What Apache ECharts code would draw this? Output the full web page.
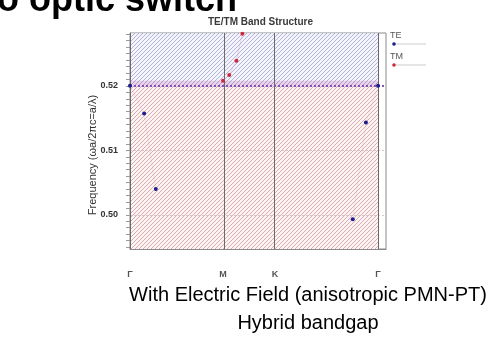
<!DOCTYPE html>
<html><head><meta charset="utf-8">
<script src="https://cdn.jsdelivr.net/npm/echarts@6/dist/echarts.min.js"></script>
<style>html,body{margin:0;padding:0;background:#fff}#c{width:492px;height:341px}</style>
</head><body><div id="c"></div>
<script>
// ---- data ----
const kTicks = [0, 0.375, 0.585, 1];
const kLabels = ['Γ', 'M', 'K', 'Γ'];
const yLabelValues = [0.50, 0.51, 0.52];
const teK = [0, 0.057, 0.104, null, 0.898, 0.951, 1.0];
const teF = [0.52, 0.5157, 0.504, null, 0.4993, 0.5143, 0.52];
const tmK = [0.375, 0.400, 0.429, 0.453];
const tmF = [0.5208, 0.5217, 0.5239, 0.5281];
const teBandFrom = 0.5199;   // blue (TE) hatched region starts here, goes up
const tmBandTo = 0.5208;     // red (TM) hatched region goes up to here
const gridLines = [0.50, 0.51];
const yMin = 0.4947, yMax = 0.5282, xMax = 1.032;

function hatch(bg, fg, step) {
  const c = document.createElement('canvas');
  c.width = c.height = step;
  const g = c.getContext('2d');
  g.fillStyle = bg; g.fillRect(0, 0, step, step);
  g.strokeStyle = fg; g.lineWidth = 1;
  g.beginPath();
  g.moveTo(0, step); g.lineTo(step, 0);
  g.moveTo(-2, 2); g.lineTo(2, -2);
  g.moveTo(step - 2, step + 2); g.lineTo(step + 2, step - 2);
  g.stroke();
  return c;
}
const blueHatch = {image: hatch('#f2f2fb', '#a0a0d4', 4), repeat: 'repeat'};
const redHatch = {image: hatch('#fcf4f4', '#dcacac', 4), repeat: 'repeat'};

const minorTicks = [];
for (let i = 495; i <= 528; i++) minorTicks.push(i / 1000);

const pair = (xs, ys) => xs.map((x, i) => x === null ? ['-', '-'] : [x, ys[i]]);

const chart = echarts.init(document.getElementById('c'), null, {renderer: 'canvas'});
chart.setOption({
  animation: false,
  title: {text: 'TE/TM Band Structure', left: 203, top: 12,
    textStyle: {fontSize: 10, fontWeight: 'bold', color: '#3a3a3a', fontFamily: 'Liberation Sans'}},
  grid: {left: 130, top: 33, right: 106, bottom: 92, show: true, borderColor: '#8a8a8a', borderWidth: 1, backgroundColor: '#fff'},
  xAxis: {
    type: 'value', min: 0, max: xMax,
    axisLine: {show: true, lineStyle: {color: '#8a8a8a'}},
    axisTick: {show: false},
    splitLine: {show: false},
    axisLabel: {customValues: kTicks, formatter: v => kLabels[kTicks.indexOf(v)] || '',
      margin: 21, fontSize: 9, fontWeight: 'bold', color: '#555', fontFamily: 'Liberation Sans'}
  },
  yAxis: {
    type: 'value', min: yMin, max: yMax,
    axisLine: {show: true, lineStyle: {color: '#8a8a8a'}},
    axisTick: {show: true, inside: false, length: 4, customValues: minorTicks, lineStyle: {color: '#999'}},
    splitLine: {show: false},
    axisLabel: {customValues: yLabelValues, formatter: v => v.toFixed(2), margin: 12,
      fontSize: 9, fontWeight: 'bold', color: '#333', fontFamily: 'Liberation Sans'}
  },
  series: [
    {
      name: 'bands', type: 'line', data: [], silent: true,
      markArea: {silent: true, z: 1, data: [
        [{xAxis: 0, yAxis: tmBandTo, itemStyle: {color: redHatch}}, {xAxis: 1, yAxis: yMin}],
        [{xAxis: 0, yAxis: teBandFrom, itemStyle: {color: blueHatch, opacity: 0.8}}, {xAxis: 1, yAxis: yMax}],
        [{xAxis: 0, yAxis: teBandFrom, itemStyle: {color: 'rgba(200,120,190,0.25)'}}, {xAxis: 1, yAxis: tmBandTo}]
      ]},
      markLine: {silent: true, symbol: 'none', label: {show: false}, data: [
        ...gridLines.map(v => ({yAxis: v, lineStyle: {color: '#d8c8d0', type: [2, 2], width: 1}})),
        {yAxis: tmBandTo, lineStyle: {color: '#d0509a', type: [2, 2], width: 1.5}},
        {yAxis: teBandFrom, lineStyle: {color: '#6a4ab8', type: [2, 2], width: 1.5}},
        ...kTicks.map(v => ({xAxis: v, lineStyle: {color: '#6a6a6a', type: 'solid', width: 1}}))
      ]}
    },
    {
      name: 'TE', type: 'line', data: pair(teK, teF), connectNulls: false,
      symbol: 'circle', symbolSize: 4, showAllSymbol: true, z: 5,
      itemStyle: {color: '#1c1c8c'},
      lineStyle: {color: 'rgba(200,160,200,0.25)', width: 1}
    },
    {
      name: 'TM', type: 'line', data: pair(tmK, tmF),
      symbol: 'circle', symbolSize: 4, showAllSymbol: true, z: 5,
      itemStyle: {color: '#cc2a3a'},
      lineStyle: {color: 'rgba(220,140,160,0.3)', width: 1}
    }
  ],
  graphic: [
    {type: 'text', left: -3, top: -17, silent: true,
      style: {text: 'o optic switch', font: 'bold 36px "Liberation Sans"', fill: '#000'}},
    {type: 'text', x: 93, y: 155, rotation: Math.PI / 2, silent: true,
      style: {text: 'Frequency (ωa/2πc=a/λ)', font: '11px "Liberation Sans"', fill: '#333',
        align: 'center', verticalAlign: 'middle'}},
    {type: 'text', left: 390, top: 31, style: {text: 'TE', font: '9px "Liberation Sans"', fill: '#555'}},
    {type: 'line', shape: {x1: 396, y1: 44, x2: 426, y2: 44}, style: {stroke: '#ccc', lineWidth: 1}},
    {type: 'circle', shape: {cx: 394, cy: 44, r: 1.8}, style: {fill: '#1c1c8c'}},
    {type: 'text', left: 390, top: 52, style: {text: 'TM', font: '9px "Liberation Sans"', fill: '#555'}},
    {type: 'line', shape: {x1: 396, y1: 65, x2: 426, y2: 65}, style: {stroke: '#ccc', lineWidth: 1}},
    {type: 'circle', shape: {cx: 394, cy: 65, r: 1.8}, style: {fill: '#cc2a3a'}},
    {type: 'text', x: 308, y: 295, style: {text: 'With Electric Field (anisotropic PMN-PT)',
      font: '20px "Liberation Sans"', fill: '#000', align: 'center', verticalAlign: 'middle'}},
    {type: 'text', x: 308, y: 323, style: {text: 'Hybrid bandgap',
      font: '20px "Liberation Sans"', fill: '#000', align: 'center', verticalAlign: 'middle'}}
  ]
});
</script></body></html>
